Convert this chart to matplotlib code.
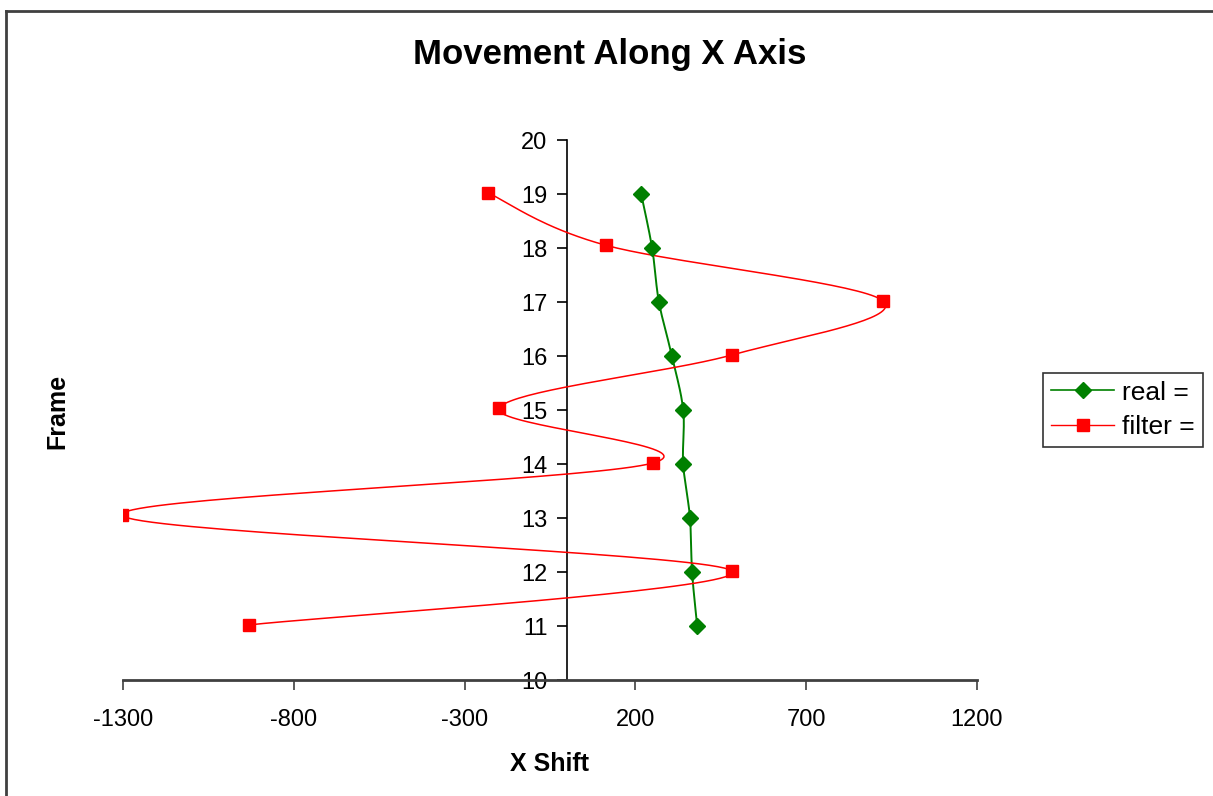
import numpy as np
import matplotlib.pyplot as plt
from matplotlib.lines import Line2D

plt.rcParams['font.family'] = ['Liberation Sans', 'DejaVu Sans']
plt.rcParams['axes.unicode_minus'] = False

frames = [11, 12, 13, 14, 15, 16, 17, 18, 19]
real_x = [381, 366, 360, 340, 340, 307, 269, 249, 217]
filter_x = [-931, 483, -1303, 252, -199, 483, 925, 114, -231]
filter_y = [11.02, 12.02, 13.05, 14.02, 15.04, 16.02, 17.02, 18.05, 19.02]


def smooth(xs, ys, n=40):
    """ Excel-style smoothed line: Catmull-Rom through the points """
    p = np.column_stack([xs, ys]).astype(float)
    p = np.vstack([p[0], p, p[-1]])
    out = []
    t = np.linspace(0, 1, n)[:, None]
    for i in range(1, len(p) - 2):
        p0, p1, p2, p3 = p[i - 1], p[i], p[i + 1], p[i + 2]
        c1 = p1 + (p2 - p0) / 6
        c2 = p2 - (p3 - p1) / 6
        seg = ((1 - t) ** 3) * p1 + 3 * ((1 - t) ** 2) * t * c1 + 3 * (1 - t) * t ** 2 * c2 + t ** 3 * p2
        out.append(seg)
    out = np.vstack(out)
    return out[:, 0], out[:, 1]


fig = plt.figure(figsize=(12.13, 7.96), dpi=100)
ax = fig.add_axes([0.1014, 0.1457, 0.704, 0.6784])

rx, ry = smooth(real_x, frames)
fx, fy = smooth(filter_x, filter_y)
ax.plot(rx, ry, color='#008000', lw=1.4, zorder=2)
ax.plot(real_x, frames, ls='none', marker='D', color='#008000', ms=8, zorder=3)
ax.plot(fx, fy, color='#ff0000', lw=1.1, zorder=2)
ax.plot(filter_x, filter_y, ls='none', marker='s', color='#ff0000', ms=8, zorder=3)

ax.set_xlim(-1300, 1200)
ax.set_ylim(10, 20)
ax.set_xticks(np.arange(-1300, 1201, 500))
ax.set_yticks(np.arange(10, 21, 1))

for s in ['top', 'right']:
    ax.spines[s].set_visible(False)
ax.spines['left'].set_position(('data', 0))
ax.spines['left'].set_zorder(1)
ax.spines['left'].set_linewidth(1.2)
ax.spines['bottom'].set_color('#404040')
ax.spines['bottom'].set_linewidth(2)
ax.tick_params(axis='both', labelsize=17, length=7, width=1.2, colors='black')
ax.tick_params(axis='x', pad=14, color='#404040')
ax.tick_params(axis='y', pad=7)

ax.set_xlabel('X Shift', fontsize=18, fontweight='bold', labelpad=15)
fig.text(0.047, 0.483, 'Frame', rotation=90, fontsize=18, fontweight='bold', ha='center', va='center')
fig.text(0.503, 0.931, 'Movement Along X Axis', fontsize=25, fontweight='bold', ha='center', va='center')

handles = [
    Line2D([], [], color='#008000', marker='D', ms=8, lw=1.2),
    Line2D([], [], color='#ff0000', marker='s', ms=8, lw=1.0),
]
leg = fig.legend(handles, ['real =', 'filter ='], loc='center left',
                 bbox_to_anchor=(0.86, 0.485), fontsize=19, frameon=True,
                 fancybox=False, edgecolor='black', handlelength=2.4,
                 borderpad=0.3, labelspacing=0.4, handletextpad=0.3,
                 borderaxespad=0)
leg.get_frame().set_linewidth(1.2)

fig.add_artist(Line2D([0.005, 1.0], [1 - 11 / 796, 1 - 11 / 796], color='#404040', lw=2, transform=fig.transFigure))
fig.add_artist(Line2D([0.005, 0.005], [1 - 11 / 796, 0.0], color='#404040', lw=2, transform=fig.transFigure))

fig.savefig('out.png', dpi=100)
